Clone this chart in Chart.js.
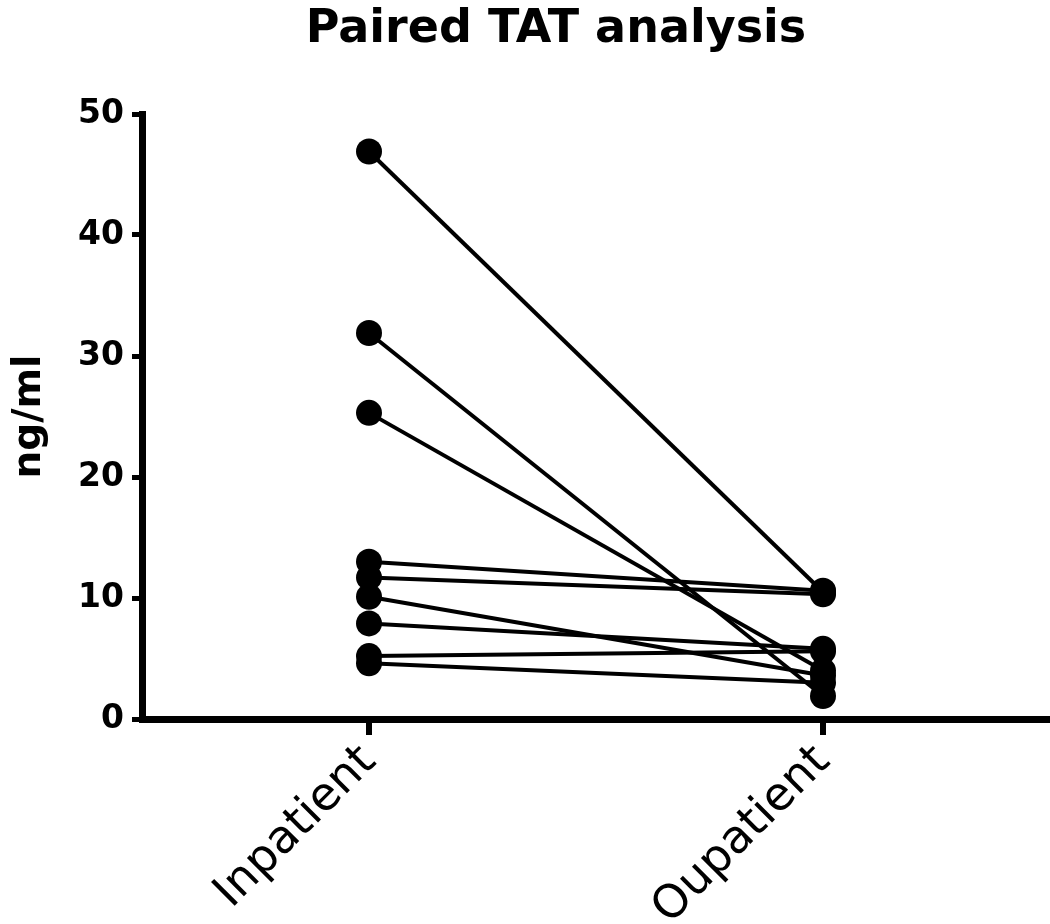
<!DOCTYPE html>
<html>
<head>
<meta charset="utf-8">
<title>Paired TAT analysis</title>
<script src="https://cdn.jsdelivr.net/npm/chart.js@4.4.1/dist/chart.umd.min.js"></script>
<style>
    body { margin: 0; background: #fff; }
    #wrap { width: 1050px; height: 924px; }
</style>
</head>
<body>
<div id="wrap"><canvas id="tatChart" width="1050" height="924"></canvas></div>
<script>
// === Données ===
const groups = ["Inpatient", "Oupatient"];
const inpatient = [46.9, 31.9, 25.3, 13.0, 11.7, 10.1, 7.9, 5.2, 4.6];
const outpatient = [10.5, 1.9, 4.0, 10.6, 10.3, 3.6, 5.8, 5.6, 3.0];
const yTicks = [0, 10, 20, 30, 40, 50];
const chartTitle = "Paired TAT analysis";
const yTitle = "ng/ml";

// un dataset par patient (paire reliée)
const datasets = inpatient.map((v, i) => ({
    label: "patient " + (i + 1),
    data: [v, outpatient[i]],
    borderColor: "#000",
    backgroundColor: "#000",
    borderWidth: 4,
    pointRadius: 13,
    pointHoverRadius: 13,
    pointBorderWidth: 0,
    tension: 0
}));

// titre centré comme sur la figure
const titlePlugin = {
    id: "titleDraw",
    afterDraw(chart) {
        const ctx = chart.ctx;
        ctx.save();
        ctx.fillStyle = "#000";
        ctx.font = "bold 46px 'DejaVu Sans'";
        ctx.textAlign = "center";
        ctx.textBaseline = "middle";
        ctx.fillText(chartTitle, 556, 30);
        ctx.restore();
    }
};

new Chart(document.getElementById("tatChart"), {
    type: "line",
    data: { labels: groups, datasets: datasets },
    options: {
        responsive: false,
        animation: false,
        devicePixelRatio: 1,
        layout: { autoPadding: false, padding: { top: 114, left: 0, right: 0, bottom: 0 } },
        plugins: {
            legend: { display: false },
            tooltip: { enabled: false },
            title: { display: false }
        },
        scales: {
            x: {
                type: "category",
                offset: true,
                grid: {
                    display: true,
                    drawOnChartArea: false,
                    drawTicks: true,
                    tickLength: 16,
                    lineWidth: 6,
                    color: "#000"
                },
                border: { display: true, width: 7, color: "#000" },
                ticks: {
                    color: "#000",
                    font: { family: "'DejaVu Sans'", size: 46 },
                    minRotation: 45,
                    maxRotation: 45,
                    padding: 0
                },
                afterFit(scale) {
                    scale.height = 924 - 719;
                    scale.paddingLeft = 0;
                    scale.paddingRight = 0;
                }
            },
            y: {
                min: 0,
                max: 50,
                afterBuildTicks(scale) {
                    scale.ticks = yTicks.map(v => ({ value: v }));
                },
                grid: {
                    display: true,
                    drawOnChartArea: false,
                    drawTicks: true,
                    tickLength: 10,
                    lineWidth: 5,
                    color: "#000"
                },
                border: { display: true, width: 7, color: "#000" },
                ticks: {
                    color: "#000",
                    font: { family: "'DejaVu Sans'", size: 33, weight: "bold" },
                    padding: 8
                },
                title: {
                    display: true,
                    text: yTitle,
                    color: "#000",
                    font: { family: "'DejaVu Sans'", size: 39, weight: "bold" },
                    padding: { top: 6, bottom: 0 }
                },
                afterFit(scale) {
                    scale.width = 142;
                    scale.paddingTop = 0;
                    scale.paddingBottom = 0;
                }
            }
        }
    },
    plugins: [titlePlugin]
});
</script>
</body>
</html>
